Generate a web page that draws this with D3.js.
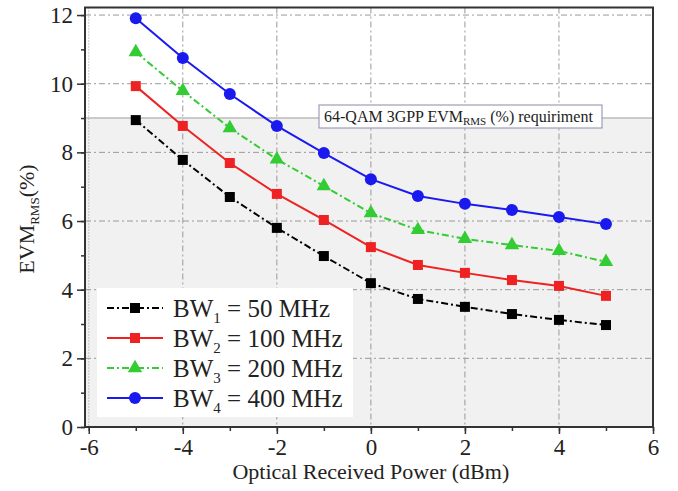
<!DOCTYPE html>
<html>
<head>
<meta charset="utf-8">
<script src="https://cdn.jsdelivr.net/npm/d3@7/dist/d3.min.js"></script>
<style>
  body { margin: 0; background: #fff; }
  text { font-family: "Liberation Serif", "DejaVu Serif", serif; fill: #222; }
</style>
</head>
<body>
<div id="chart"></div>
<script>
// data
const powers = [-5, -4, -3, -2, -1, 0, 1, 2, 3, 4, 5];
const bw1 = [8.94, 7.78, 6.70, 5.80, 4.98, 4.19, 3.73, 3.50, 3.29, 3.12, 2.97];
const bw2 = [9.93, 8.77, 7.69, 6.79, 6.03, 5.24, 4.72, 4.49, 4.28, 4.11, 3.82];
const bw3 = [10.92, 9.79, 8.71, 7.80, 7.02, 6.23, 5.74, 5.48, 5.30, 5.13, 4.81];
const bw4 = [11.91, 10.75, 9.70, 8.77, 7.98, 7.22, 6.73, 6.50, 6.32, 6.12, 5.91];
const seriesNames = ["1|50", "2|100", "3|200", "4|400"];
const xTicks = [-6, -4, -2, 0, 2, 4, 6];
const yTicks = [0, 2, 4, 6, 8, 10, 12];
const threshold = 9;

const W = 678, H = 491;
const margin = { top: 7.5, right: 25, bottom: 64, left: 85 };
const width = W - margin.left - margin.right;
const height = H - margin.top - margin.bottom;

const svg = d3.select("#chart").append("svg")
  .attr("width", W).attr("height", H);
const g = svg.append("g")
  .attr("transform", `translate(${margin.left},${margin.top})`);

const x = d3.scaleLinear().domain([-6.08, 6]).range([0, width]);
const y = d3.scaleLinear().domain([0, 12.22]).range([height, 0]);
const fmt = d => String(d); // plain hyphen minus like the original

const series = [
  { name: seriesNames[0], vals: bw1, color: "#000000", dash: "7,3,2,3", marker: "square" },
  { name: seriesNames[1], vals: bw2, color: "#ee2222", dash: null, marker: "square" },
  { name: seriesNames[2], vals: bw3, color: "#33cc33", dash: "7,3,2,3", marker: "triangle" },
  { name: seriesNames[3], vals: bw4, color: "#1a1aee", dash: null, marker: "circle" }
];

// gray area below the requirement
g.append("rect")
  .attr("x", 0).attr("y", y(threshold))
  .attr("width", width).attr("height", height - y(threshold))
  .attr("fill", "#f1f1f1");
g.append("line")
  .attr("x1", 0).attr("x2", width)
  .attr("y1", y(threshold)).attr("y2", y(threshold))
  .attr("stroke", "#bbb").attr("stroke-width", 1.5);

// grid
g.selectAll(".gx").data(xTicks.slice(0, -1)).enter().append("line")
  .attr("x1", d => x(d)).attr("x2", d => x(d))
  .attr("y1", 0).attr("y2", height)
  .attr("stroke", "#999").attr("stroke-width", 1)
  .attr("stroke-dasharray", d => d === -6 ? "1,2" : "6,3,2,3");
g.selectAll(".gy").data(yTicks.slice(1)).enter().append("line")
  .attr("x1", 0).attr("x2", width)
  .attr("y1", d => y(d)).attr("y2", d => y(d))
  .attr("stroke", "#999").attr("stroke-width", 1)
  .attr("stroke-dasharray", "6,3,2,3");

// axes
const minorX = d3.range(-6, 6.01, 1);
const minorY = d3.range(0, 12.01, 1);
g.append("g").attr("transform", `translate(0,${height})`)
  .call(d3.axisBottom(x).tickValues(minorX).tickSize(4).tickFormat(""));
g.append("g").attr("transform", `translate(0,${height})`)
  .call(d3.axisBottom(x).tickValues(xTicks).tickSize(7).tickPadding(5).tickFormat(fmt));
g.append("g")
  .call(d3.axisLeft(y).tickValues(minorY).tickSize(4).tickFormat(""));
g.append("g")
  .call(d3.axisLeft(y).tickValues(yTicks).tickSize(8).tickPadding(4).tickFormat(fmt));
g.selectAll(".domain").remove();
g.selectAll(".tick line").attr("stroke", "#333").attr("stroke-width", 1.5);
g.selectAll(".tick text").style("font-size", "23px").attr("fill", "#222");

// frame
g.append("rect").attr("width", width).attr("height", height)
  .attr("fill", "none").attr("stroke", "#333").attr("stroke-width", 2);

// requirement label
const note = g.append("g").attr("transform", `translate(${319 - margin.left},${105 - margin.top})`);
note.append("rect").attr("width", 283).attr("height", 23)
  .attr("fill", "#fff").attr("stroke", "#8a8aaa").attr("stroke-width", 1);
const nt = note.append("text").attr("x", 5).attr("y", 17).style("font-size", "16px");
nt.append("tspan").text("64-QAM 3GPP EVM");
nt.append("tspan").attr("dy", 3).style("font-size", "11px").text("RMS");
nt.append("tspan").attr("dy", -3).text(" (%) requiriment");

// lines and markers
const line = d3.line().x((d, i) => x(powers[i])).y(d => y(d));
function drawMarker(sel, type, color, s) {
  if (type === "circle") {
    sel.append("circle").attr("r", s * 0.6).attr("fill", color);
  } else if (type === "triangle") {
    sel.append("path").attr("d", d3.symbol(d3.symbolTriangle, s * s * 0.9)()).attr("fill", color);
  } else {
    sel.append("rect").attr("x", -s / 2).attr("y", -s / 2)
      .attr("width", s).attr("height", s).attr("fill", color);
  }
}
series.forEach(s => {
  g.append("path").datum(s.vals)
    .attr("d", line).attr("fill", "none")
    .attr("stroke", s.color).attr("stroke-width", 2)
    .attr("stroke-dasharray", s.dash);
  g.selectAll(null).data(s.vals).enter().append("g")
    .attr("transform", (d, i) => `translate(${x(powers[i])},${y(d)})`)
    .each(function () { drawMarker(d3.select(this), s.marker, s.color, 10); });
});

// legend
const lg = g.append("g").attr("transform", `translate(${97 - margin.left},${288 - margin.top})`);
lg.append("rect").attr("width", 256).attr("height", 129).attr("fill", "#fff");
series.forEach((s, i) => {
  const row = lg.append("g").attr("transform", `translate(0,${20 + i * 30})`);
  row.append("line").attr("x1", 10).attr("x2", 66)
    .attr("stroke", s.color).attr("stroke-width", 2)
    .attr("stroke-dasharray", s.dash);
  drawMarker(row.append("g").attr("transform", "translate(38,0)"), s.marker, s.color, 10);
  const [k, mhz] = s.name.split("|");
  const t = row.append("text").attr("x", 76).attr("y", 9).style("font-size", "25px");
  t.append("tspan").text("BW");
  t.append("tspan").attr("dy", 6).style("font-size", "15px").text(k);
  t.append("tspan").attr("dy", -6).text(` = ${mhz} MHz`);
});

// axis titles
svg.append("text")
  .attr("x", margin.left + x(0)).attr("y", 479)
  .attr("text-anchor", "middle").style("font-size", "22px")
  .text("Optical Received Power (dBm)");
const yl = svg.append("text")
  .attr("transform", `translate(34,${margin.top + y(6) - 2}) rotate(-90)`)
  .attr("text-anchor", "middle").style("font-size", "22px");
yl.append("tspan").text("EVM");
yl.append("tspan").attr("dy", 5).style("font-size", "13px").text("RMS");
yl.append("tspan").attr("dy", -5).text("(%)");
</script>
</body>
</html>
